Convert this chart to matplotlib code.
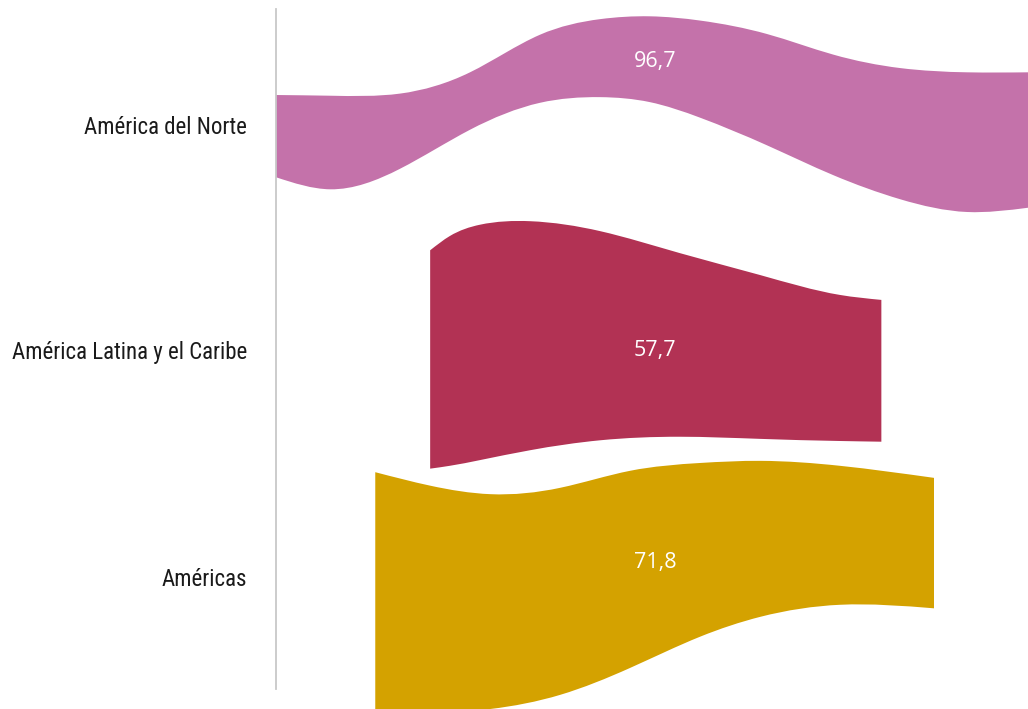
import numpy as np
import matplotlib.pyplot as plt
from matplotlib.path import Path
from matplotlib.patches import PathPatch
from matplotlib import font_manager

# --- data (chart units: x 0-100 along the stream, y 0-100 bottom to top) ---
categories = ["América del Norte", "América Latina y el Caribe", "Américas"]
values = ["96,7", "57,7", "71,8"]
colors = ["#C472AA", "#B23254", "#D4A200"]
cat_pos = [82.4, 50.6, 18.6]
value_pos = [91.3, 50.6, 20.7]

norte_x = [0, 7.2, 16.5, 25.8, 35.1, 43.1, 49.7, 56.4, 65.3, 74.1, 83.0, 91.9, 100]
norte_top = [86.6, 86.5, 86.8, 89.8, 95.1, 97.3, 97.7, 97.1, 95.2, 92.3, 90.4, 89.8, 89.8]
norte_bot = [75.0, 73.3, 76.2, 81.7, 85.5, 86.3, 85.6, 83.4, 79.5, 75.3, 71.9, 70.1, 70.7]

latam_x = [20.5, 23.1, 27.1, 33.8, 43.1, 53.7, 64.4, 75.0, 80.5]
latam_top = [64.7, 66.7, 68.3, 68.8, 67.4, 64.3, 61.2, 58.4, 57.7]
latam_bot = [33.9, 34.3, 35.1, 36.5, 37.9, 38.4, 38.1, 37.8, 37.7]

amer_x = [13.2, 20.5, 28.5, 37.8, 47.1, 56.4, 64.4, 75.0, 87.5]
amer_top = [33.4, 31.5, 30.3, 31.2, 33.6, 34.7, 35.0, 34.3, 32.6]
amer_bot = [-1.3, -0.7, 0.0, 2.0, 5.8, 10.2, 13.0, 14.7, 14.2]

series = [
    (norte_x, norte_top, norte_bot),
    (latam_x, latam_top, latam_bot),
    (amer_x, amer_top, amer_bot),
]


def pick_font(names):
    have = {f.name for f in font_manager.fontManager.ttflist}
    for n in names:
        if n in have:
            return n
    return "DejaVu Sans"


label_font = pick_font(["Roboto Condensed", "Liberation Sans Narrow", "Open Sans Condensed", "Noto Sans"])
value_font = pick_font(["Open Sans", "Noto Sans", "DejaVu Sans"])


def spline_slopes(x, y):
    # knot slopes of a natural cubic spline
    x = np.asarray(x, float)
    y = np.asarray(y, float)
    n = len(x)
    h = np.diff(x)
    s = np.diff(y) / h
    A = np.zeros((n, n))
    b = np.zeros(n)
    A[0, 0] = A[-1, -1] = 1
    for i in range(1, n - 1):
        A[i, i - 1] = h[i - 1]
        A[i, i] = 2 * (h[i - 1] + h[i])
        A[i, i + 1] = h[i]
        b[i] = 6 * (s[i] - s[i - 1])
    M = np.linalg.solve(A, b)
    m = np.empty(n)
    m[:-1] = s - h * (2 * M[:-1] + M[1:]) / 6
    m[-1] = s[-1] + h[-1] * (M[-2] + 2 * M[-1]) / 6
    return m


def bezier_pts(x, y, reverse=False):
    x = np.asarray(x, float)
    y = np.asarray(y, float)
    m = spline_slopes(x, y)
    idx = range(len(x) - 1)
    verts = []
    if not reverse:
        for i in idx:
            dx = x[i + 1] - x[i]
            verts += [(x[i] + dx / 3, y[i] + m[i] * dx / 3),
                      (x[i + 1] - dx / 3, y[i + 1] - m[i + 1] * dx / 3),
                      (x[i + 1], y[i + 1])]
    else:
        for i in reversed(idx):
            dx = x[i + 1] - x[i]
            verts += [(x[i + 1] - dx / 3, y[i + 1] - m[i + 1] * dx / 3),
                      (x[i] + dx / 3, y[i] + m[i] * dx / 3),
                      (x[i], y[i])]
    return verts


def band_path(x, top, bot):
    verts = [(x[0], top[0])]
    codes = [Path.MOVETO]
    seg = bezier_pts(x, top)
    verts += seg
    codes += [Path.CURVE4] * len(seg)
    verts.append((x[-1], bot[-1]))
    codes.append(Path.LINETO)
    seg = bezier_pts(x, bot, reverse=True)
    verts += seg
    codes += [Path.CURVE4] * len(seg)
    verts.append((x[0], top[0]))
    codes.append(Path.CLOSEPOLY)
    return Path(verts, codes)


fig = plt.figure(figsize=(10.28, 7.09), dpi=100)
ax = fig.add_axes([276 / 1028, 0, 752 / 1028, 1])
ax.set_xlim(0, 100)
ax.set_ylim(0, 100)

label_x = 50.4
for (x, top, bot), col, val, vy in zip(series, colors, values, value_pos):
    ax.add_patch(PathPatch(band_path(x, top, bot), facecolor=col, edgecolor="none"))
    ax.text(label_x, vy, val, color="white", ha="center", va="center",
            fontsize=15.5, family=value_font)

for s in ["top", "right", "bottom"]:
    ax.spines[s].set_visible(False)
ax.spines["left"].set_color("#c8c8c8")
ax.spines["left"].set_linewidth(1.3)
ax.spines["left"].set_bounds(2.8, 98.7)
ax.set_xticks([])
ax.set_yticks(cat_pos)
ax.set_yticklabels(categories, fontsize=16.5, family=label_font, color="#1a1a1a")
ax.tick_params(axis="y", length=0, pad=21)

fig.savefig("out.png", dpi=100)
